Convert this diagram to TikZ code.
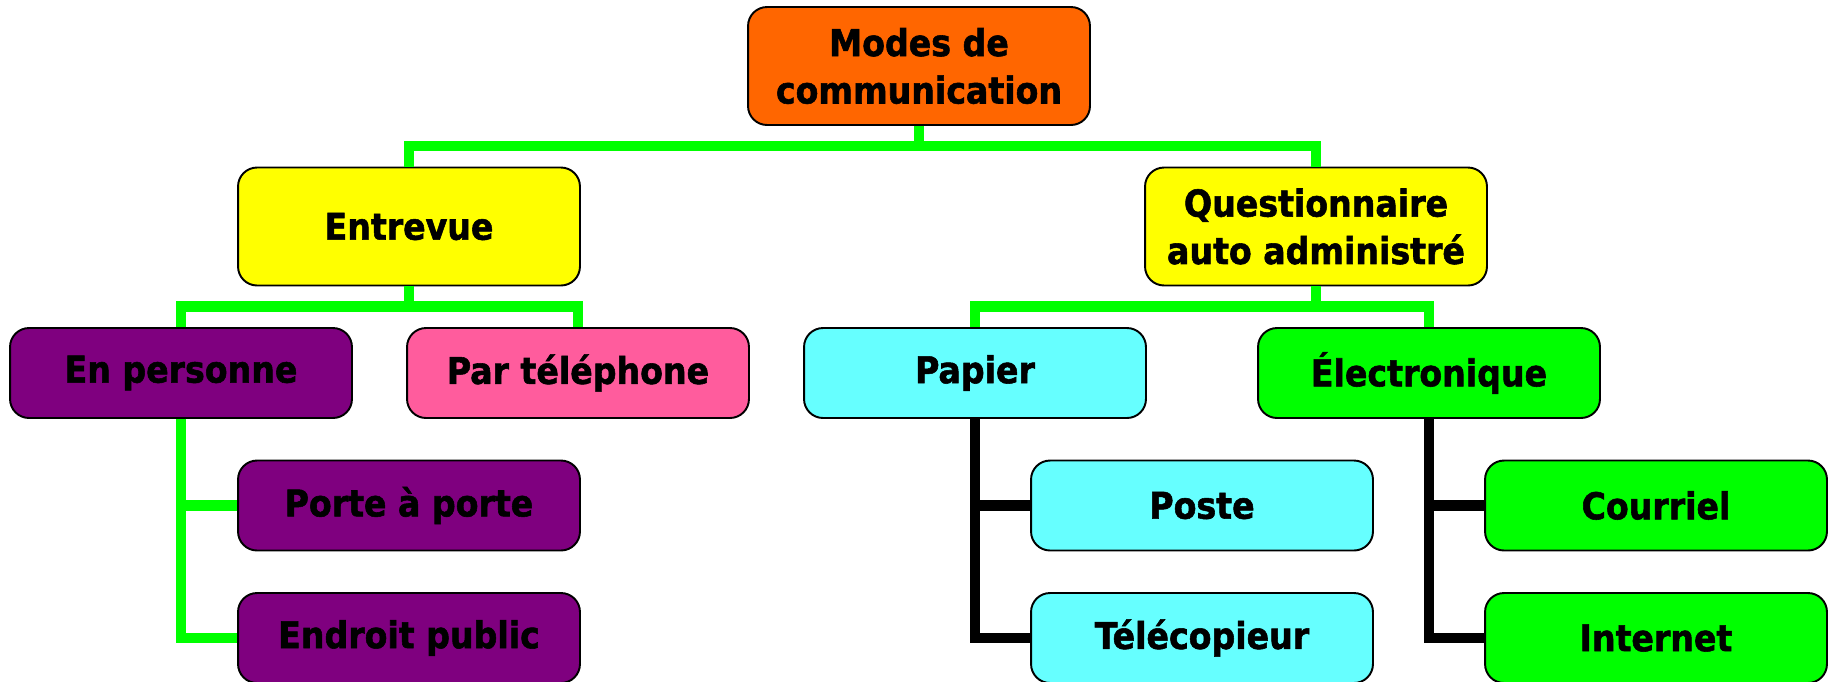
\documentclass[tikz,border=0pt]{standalone}
\usepackage{fontspec}
\setmainfont{DejaVu Sans Condensed}[BoldFeatures={FakeBold=1.5}]
\definecolor{rootorange}{HTML}{FF6600}
\definecolor{boxyellow}{HTML}{FFFF00}
\definecolor{boxpurple}{HTML}{7F007F}
\definecolor{boxpink}{HTML}{FF5C9D}
\definecolor{boxcyan}{HTML}{66FFFF}
\definecolor{boxgreen}{HTML}{00FF00}
\begin{document}
\begin{tikzpicture}[x=0.02cm,y=-0.02cm,
  box/.style={draw=black,line width=1.1pt,rounded corners=0.38cm,minimum width=6.84cm,
    minimum height=1.8cm,align=center,font=\fontsize{21}{27}\selectfont\bfseries},
  tall/.style={minimum height=2.36cm},
  link/.style={line width=5.8pt,boxgreen},
  blacklink/.style={line width=5.8pt,black}]
  \useasboundingbox (0,0) rectangle (1835,681);
  \coordinate (bar1) at (0,146);
  \coordinate (bar2) at (0,306.5);
  % nodes
  \node[box,tall,fill=rootorange] (root) at (919,66) {Modes de\\communication};
  \node[box,tall,fill=boxyellow] (entrevue) at (409,226.5) {Entrevue};
  \node[box,tall,fill=boxyellow] (quest) at (1316,226.5) {Questionnaire\\auto administré};
  \node[box,fill=boxpurple] (enpers) at (181,373) {En personne};
  \node[box,fill=boxpink] (partel) at (578,373) {Par téléphone};
  \node[box,fill=boxcyan] (papier) at (975,373) {Papier};
  \node[box,fill=boxgreen] (elec) at (1429,373) {Électronique};
  \node[box,fill=boxpurple] (porte) at (409,505.5) {Porte à porte};
  \node[box,fill=boxpurple] (endroit) at (409,638) {Endroit public};
  \node[box,fill=boxcyan] (poste) at (1202,505.5) {Poste};
  \node[box,fill=boxcyan] (telec) at (1202,638) {Télécopieur};
  \node[box,fill=boxgreen] (courriel) at (1656,505.5) {Courriel};
  \node[box,fill=boxgreen] (internet) at (1656,638) {Internet};
  % green links
  \draw[link] (root.south)--(root.south|-bar1);
  \draw[link] (entrevue.north)--(entrevue.north|-bar1)--(quest.north|-bar1)--(quest.north);
  \draw[link] (entrevue.south)--(entrevue.south|-bar2);
  \draw[link] (enpers.north)--(enpers.north|-bar2)--(partel.north|-bar2)--(partel.north);
  \draw[link] (quest.south)--(quest.south|-bar2);
  \draw[link] (papier.north)--(papier.north|-bar2)--(elec.north|-bar2)--(elec.north);
  \draw[link] (enpers.south)|-(porte.west);
  \draw[link] (enpers.south)|-(endroit.west);
  % black links
  \draw[blacklink] (papier.south)|-(poste.west);
  \draw[blacklink] (papier.south)|-(telec.west);
  \draw[blacklink] (elec.south)|-(courriel.west);
  \draw[blacklink] (elec.south)|-(internet.west);
\end{tikzpicture}
\end{document}
